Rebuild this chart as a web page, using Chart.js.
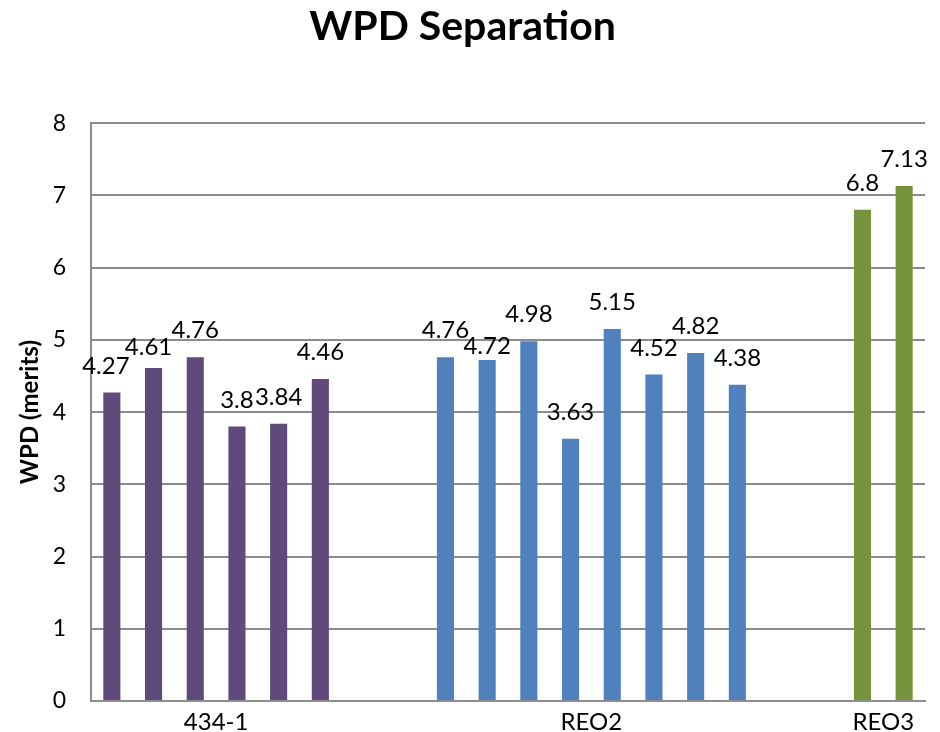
<!DOCTYPE html>
<html>
<head>
<meta charset="utf-8">
<script src="https://cdn.jsdelivr.net/npm/chart.js@4/dist/chart.umd.min.js"></script>
<style>
  html, body { margin: 0; padding: 0; background: #fff; }
  #wrap { width: 940px; height: 732px; }
</style>
</head>
<body>
<div id="wrap"><canvas id="c" width="940" height="732"></canvas></div>
<script>
// Sample groups and their WPD values (merits)
const groupNames = ['434-1', 'REO2', 'REO3'];
const values434 = [4.27, 4.61, 4.76, 3.8, 3.84, 4.46];
const valuesREO2 = [4.76, 4.72, 4.98, 3.63, 5.15, 4.52, 4.82, 4.38];
const valuesREO3 = [6.8, 7.13];
const yTickValues = [0, 1, 2, 3, 4, 5, 6, 7, 8];

const groupColors = ['#604A7B', '#4F81BD', '#77933C'];
const gapSlots = 2;           // empty slots between groups

const groupValues = [values434, valuesREO2, valuesREO3];

// Lay every bar out in its own slot, leaving gaps between groups
const groupStarts = [];
let slot = 0;
groupValues.forEach((vals, i) => {
  groupStarts.push(slot);
  slot += vals.length + (i < groupValues.length - 1 ? gapSlots : 0);
});
const totalSlots = slot;
const slotLabels = Array.from({ length: totalSlots }, (_, i) => 's' + i);
const groupCenters = groupValues.map((vals, i) => groupStarts[i] + (vals.length - 1) / 2);

const datasets = groupValues.map((vals, g) => {
  const data = new Array(totalSlots).fill(null);
  vals.forEach((v, k) => { data[groupStarts[g] + k] = v; });
  return {
    label: groupNames[g],
    data,
    backgroundColor: groupColors[g],
    grouped: false,
    categoryPercentage: 1,
    barPercentage: 0.41
  };
});

const FONT = 'Lato, "Open Sans", sans-serif';
const GRID = '#8c8c8c';

// Value labels above each bar; a few are nudged aside so neighbours don't collide
const labelNudges = { '0:0': [-6, 0], '0:1': [-5, 6], '1:9': [0, 13] };
const valueLabels = {
  id: 'valueLabels',
  afterDatasetsDraw(chart) {
    const ctx = chart.ctx;
    ctx.save();
    ctx.font = '24px ' + FONT;
    ctx.fillStyle = '#000';
    ctx.textAlign = 'center';
    ctx.textBaseline = 'alphabetic';
    chart.data.datasets.forEach((ds, di) => {
      const meta = chart.getDatasetMeta(di);
      meta.data.forEach((el, i) => {
        const v = ds.data[i];
        if (v === null || v === undefined) return;
        const n = labelNudges[di + ':' + i] || [0, 0];
        ctx.fillText(String(v), el.x + n[0], el.y - 19 + n[1]);
      });
    });
    ctx.restore();
  }
};

new Chart(document.getElementById('c'), {
  type: 'bar',
  data: { labels: slotLabels, datasets },
  plugins: [valueLabels],
  options: {
    responsive: false,
    devicePixelRatio: 1,
    animation: false,
    layout: { padding: { left: 0, right: 15, top: 0, bottom: 0 } },
    plugins: {
      legend: { display: false },
      tooltip: { enabled: false },
      title: {
        display: true,
        text: 'WPD Separation',
        color: '#000',
        font: { family: FONT, size: 41, weight: 'bold' },
        padding: { top: 2, bottom: 72 }
      }
    },
    scales: {
      x: {
        type: 'category',
        offset: true,
        grid: { display: false },
        border: { color: GRID, width: 2 },
        ticks: { display: false },
        afterFit(s) { s.height = 0; }
      },
      xg: {
        type: 'linear',
        position: 'bottom',
        offset: false,
        bounds: 'data',
        beginAtZero: false,
        grace: 0,
        min: -0.5,
        max: totalSlots - 0.5,
        grid: { display: false, drawTicks: false, offset: false },
        border: { display: false },
        afterBuildTicks(s) { s.ticks = groupCenters.map(v => ({ value: v })); },
        ticks: {
          autoSkip: false,
          maxRotation: 0,
          padding: 7,
          color: '#000',
          font: { family: FONT, size: 24 },
          callback: (v, i) => groupNames[i]
        },
        afterFit(s) { s.height = 31; }
      },
      y: {
        min: 0,
        max: 8,
        afterBuildTicks(s) { s.ticks = yTickValues.map(v => ({ value: v })); },
        grid: { color: GRID, lineWidth: 2, drawTicks: true, tickLength: 25, tickColor: 'rgba(0,0,0,0)' },
        border: { color: GRID, width: 2 },
        ticks: {
          padding: 0,
          color: '#000',
          font: { family: FONT, size: 23 }
        },
        title: {
          display: true,
          text: 'WPD (merits)',
          color: '#000',
          font: { family: FONT, size: 24, weight: 'bold' },
          padding: { top: 16, bottom: 0 }
        },
        afterFit(s) { s.width = 91; }
      }
    }
  }
});
</script>
</body>
</html>
